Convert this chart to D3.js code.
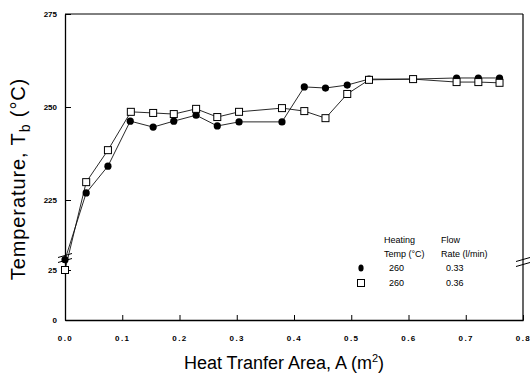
<!DOCTYPE html>
<html>
<head>
<meta charset="utf-8">
<script src="https://cdn.jsdelivr.net/npm/d3@7"></script>
<style>
  body { margin: 0; background: #fff; }
  text { font-family: "Liberation Sans", Arial, sans-serif; fill: #000; }
</style>
</head>
<body>
<svg id="chart" width="530" height="376"></svg>
<script>
// heat transfer area (m2) at each measuring point
const areaFilled = [0, 0.037, 0.075, 0.114, 0.154, 0.19, 0.229, 0.266, 0.304, 0.379, 0.418, 0.455, 0.493, 0.531, 0.608, 0.684, 0.722, 0.759];
const tempFilled = [31, 226.9, 234.1, 246.2, 244.6, 246.2, 247.8, 244.9, 246.0, 246.0, 255.4, 255.1, 255.9, 257.5, 257.5, 257.8, 257.8, 257.8];

const areaOpen = [0, 0.037, 0.075, 0.115, 0.154, 0.19, 0.229, 0.266, 0.304, 0.379, 0.418, 0.455, 0.493, 0.531, 0.608, 0.684, 0.722, 0.759];
const tempOpen = [25, 229.8, 238.4, 248.7, 248.4, 248.1, 249.5, 247.3, 248.7, 249.7, 248.9, 247.0, 253.5, 257.3, 257.5, 256.7, 256.7, 256.5];

const xTicks = [0, 0.1, 0.2, 0.3, 0.4, 0.5, 0.6, 0.7, 0.8];
const yTicks = [0, 25, 225, 250, 275];

const legendRows = [
  { marker: 'circle', temp: '260', rate: '0.33' },
  { marker: 'square', temp: '260', rate: '0.36' }
];

const svg = d3.select('#chart');

const x = d3.scaleLinear().domain([0, 0.8]).range([65, 523]);
// broken axis: 0-30 on the lower part, 225-275 on the upper part
const y = d3.scaleLinear().domain([0, 30, 225, 275]).range([320, 260, 200, 14]);

const xL = x(0), xR = x(0.8), yT = y(275), yB = y(0);

// frame
svg.append('line').attr('x1', xL).attr('x2', xR).attr('y1', yT).attr('y2', yT)
  .attr('stroke', '#000').attr('stroke-width', 1);
svg.append('line').attr('x1', xR).attr('x2', xR).attr('y1', yT).attr('y2', yB + 1)
  .attr('stroke', '#000').attr('stroke-width', 1.2);

// y axis
const yAxis = svg.append('g')
  .attr('transform', `translate(${xL},0)`)
  .call(d3.axisLeft(y).tickValues(yTicks).tickSizeInner(-6).tickSizeOuter(0).tickPadding(8)
    .tickFormat(d3.format('d')));
yAxis.select('.domain').attr('stroke-width', 1.3);
yAxis.selectAll('text').attr('font-size', 8).attr('font-weight', 'bold')
  .style('font-family', '"Liberation Sans", Arial, sans-serif');

// x axis
const xAxis = svg.append('g')
  .attr('transform', `translate(0,${yB})`)
  .call(d3.axisBottom(x).tickValues(xTicks).tickSizeInner(-5).tickSizeOuter(0).tickPadding(15)
    .tickFormat(d3.format('.1f')));
xAxis.select('.domain').attr('stroke-width', 1.3);
xAxis.selectAll('text').attr('font-size', 8).attr('font-weight', 'bold').attr('letter-spacing', 1.5)
  .style('font-family', '"Liberation Sans", Arial, sans-serif');

// axis break marks
function breakMark(cx, cy) {
  [-2.5, 2.5].forEach(off => {
    svg.append('line')
      .attr('x1', cx - 7).attr('y1', cy + off + 2)
      .attr('x2', cx + 7).attr('y2', cy + off - 2)
      .attr('stroke', '#000').attr('stroke-width', 1);
  });
}
breakMark(xL, 258);
breakMark(xR, 262);

// series
const line = d3.line().x(d => x(d[0])).y(d => y(d[1]));
const filledPts = areaFilled.map((a, i) => [a, tempFilled[i]]);
const openPts = areaOpen.map((a, i) => [a, tempOpen[i]]);

svg.append('path').datum(filledPts).attr('d', line)
  .attr('fill', 'none').attr('stroke', '#111').attr('stroke-width', 0.9);
svg.append('path').datum(openPts).attr('d', line)
  .attr('fill', 'none').attr('stroke', '#111').attr('stroke-width', 0.9);

svg.selectAll('.dot').data(filledPts).enter().append('circle')
  .attr('class', 'dot')
  .attr('cx', d => x(d[0])).attr('cy', d => y(d[1]))
  .attr('r', 3.6).attr('fill', '#000');

svg.selectAll('.sq').data(openPts).enter().append('rect')
  .attr('class', 'sq')
  .attr('x', d => x(d[0]) - 3.5).attr('y', d => y(d[1]) - 3.5)
  .attr('width', 7).attr('height', 7)
  .attr('fill', '#fff').attr('stroke', '#000').attr('stroke-width', 1);

// legend
const lg = svg.append('g').attr('font-size', 9);
lg.append('text').attr('x', 384).attr('y', 243).text('Heating');
lg.append('text').attr('x', 441).attr('y', 243).text('Flow');
lg.append('text').attr('x', 384).attr('y', 257).text('Temp (°C)');
lg.append('text').attr('x', 441).attr('y', 257).text('Rate (l/min)');
legendRows.forEach((r, i) => {
  const yy = 268 + i * 15;
  if (r.marker === 'circle') {
    lg.append('ellipse').attr('cx', 361).attr('cy', yy).attr('rx', 2.6).attr('ry', 3.6).attr('fill', '#000');
  } else {
    lg.append('rect').attr('x', 357.5).attr('y', yy - 3.5).attr('width', 7).attr('height', 7)
      .attr('fill', '#fff').attr('stroke', '#000');
  }
  lg.append('text').attr('x', 389).attr('y', yy + 3).text(r.temp);
  lg.append('text').attr('x', 446).attr('y', yy + 3).text(r.rate);
});

// axis titles
const yTitle = svg.append('text')
  .attr('transform', 'translate(25,179) rotate(-90)')
  .attr('text-anchor', 'middle').attr('font-size', 20).attr('letter-spacing', 0.9);
yTitle.append('tspan').text('Temperature, T');
yTitle.append('tspan').attr('font-size', 14).attr('dy', 5).text('b');
yTitle.append('tspan').attr('dy', -5).text(' (°C)');

const xTitle = svg.append('text')
  .attr('x', 284).attr('y', 369)
  .attr('text-anchor', 'middle').attr('font-size', 18);
xTitle.append('tspan').text('Heat Tranfer Area, A (m');
xTitle.append('tspan').attr('font-size', 11).attr('dy', -7).text('2');
xTitle.append('tspan').attr('dy', 7).text(')');
</script>
</body>
</html>
